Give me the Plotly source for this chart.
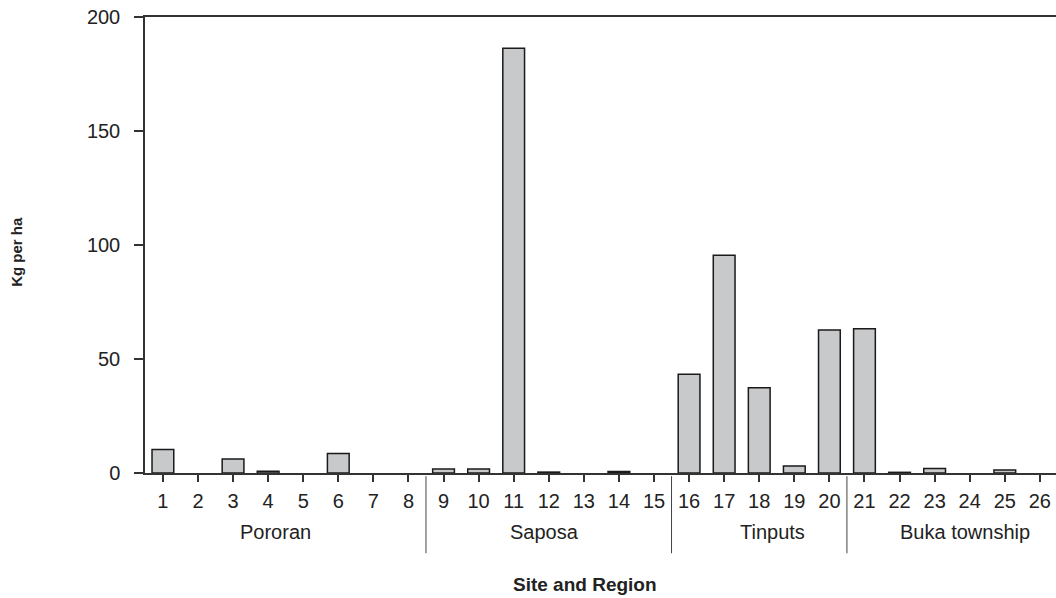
import plotly.graph_objects as go

sites = list(range(1, 27))
kg_per_ha = [10.3, 0, 6.1, 0.8, 0, 8.5, 0, 0,
             1.7, 1.8, 186.3, 0.4, 0, 0.7, 0,
             43.3, 95.5, 37.4, 3.1, 62.7,
             63.3, 0.3, 2.0, 0, 1.3, 0]
regions = ["Pororan", "Saposa", "Tinputs", "Buka township"]
region_label_x = [4.22, 11.89, 18.39, 23.86]
region_bounds = [8.5, 15.5, 20.5]
y_ticks = [0, 50, 100, 150, 200]

FONT = "Liberation Sans, Arial, sans-serif"
AX = "#333333"
TXT = "#222222"

fig = go.Figure()
fig.add_trace(go.Bar(
    x=sites, y=kg_per_ha,
    marker=dict(color="#c8c9cb",
                line=dict(color="#1a1a1a",
                          width=[1.5 if v > 0 else 0 for v in kg_per_ha])),
    width=0.62,
))

fig.update_layout(
    width=1056, height=598,
    margin=dict(l=145, r=0, t=17, b=125),
    plot_bgcolor="white", paper_bgcolor="white",
    showlegend=False,
    font=dict(family=FONT, size=20, color=TXT),
)
fig.update_xaxes(
    range=[0.49, 26.46],
    tickmode="array", tickvals=sites, ticktext=[str(s) for s in sites],
    ticks="outside", ticklen=7, tickwidth=1.5, tickcolor=AX,
    showline=True, linecolor=AX, linewidth=1.5, mirror=True,
    showgrid=False, zeroline=False,
    tickfont=dict(family=FONT, size=20, color=TXT),
    ticklabelstandoff=2,
)
fig.update_yaxes(
    range=[0, 200],
    tickmode="array", tickvals=y_ticks,
    ticks="outside", ticklen=9, tickwidth=1.5, tickcolor=AX,
    showline=True, linecolor=AX, linewidth=1.5,
    showgrid=False, zeroline=False,
    tickfont=dict(family=FONT, size=20, color=TXT),
    ticklabelstandoff=10,
)

for b in region_bounds:
    fig.add_shape(type="line", xref="x", yref="paper",
                  x0=b, x1=b, y0=-0.007, y1=-0.176,
                  line=dict(color="#444444", width=1))

for name, xpos in zip(regions, region_label_x):
    fig.add_annotation(x=xpos, xref="x", y=-0.129, yref="paper",
                       text=name, showarrow=False,
                       font=dict(family=FONT, size=20, color=TXT),
                       xanchor="center", yanchor="middle")

fig.add_annotation(x=0.483, xref="paper", y=-0.2456, yref="paper",
                   text="<b>Site and Region</b>", showarrow=False,
                   font=dict(family=FONT, size=19, color=TXT),
                   xanchor="center", yanchor="middle")
fig.add_annotation(x=-0.1405, xref="paper", y=0.485, yref="paper",
                   text="<b>Kg per ha</b>", showarrow=False, textangle=-90,
                   font=dict(family=FONT, size=15, color=TXT),
                   xanchor="center", yanchor="middle")

fig.write_html("out.html",
               config={"displayModeBar": False},
               post_script="document.body.style.margin='0';document.body.style.overflow='hidden';")
